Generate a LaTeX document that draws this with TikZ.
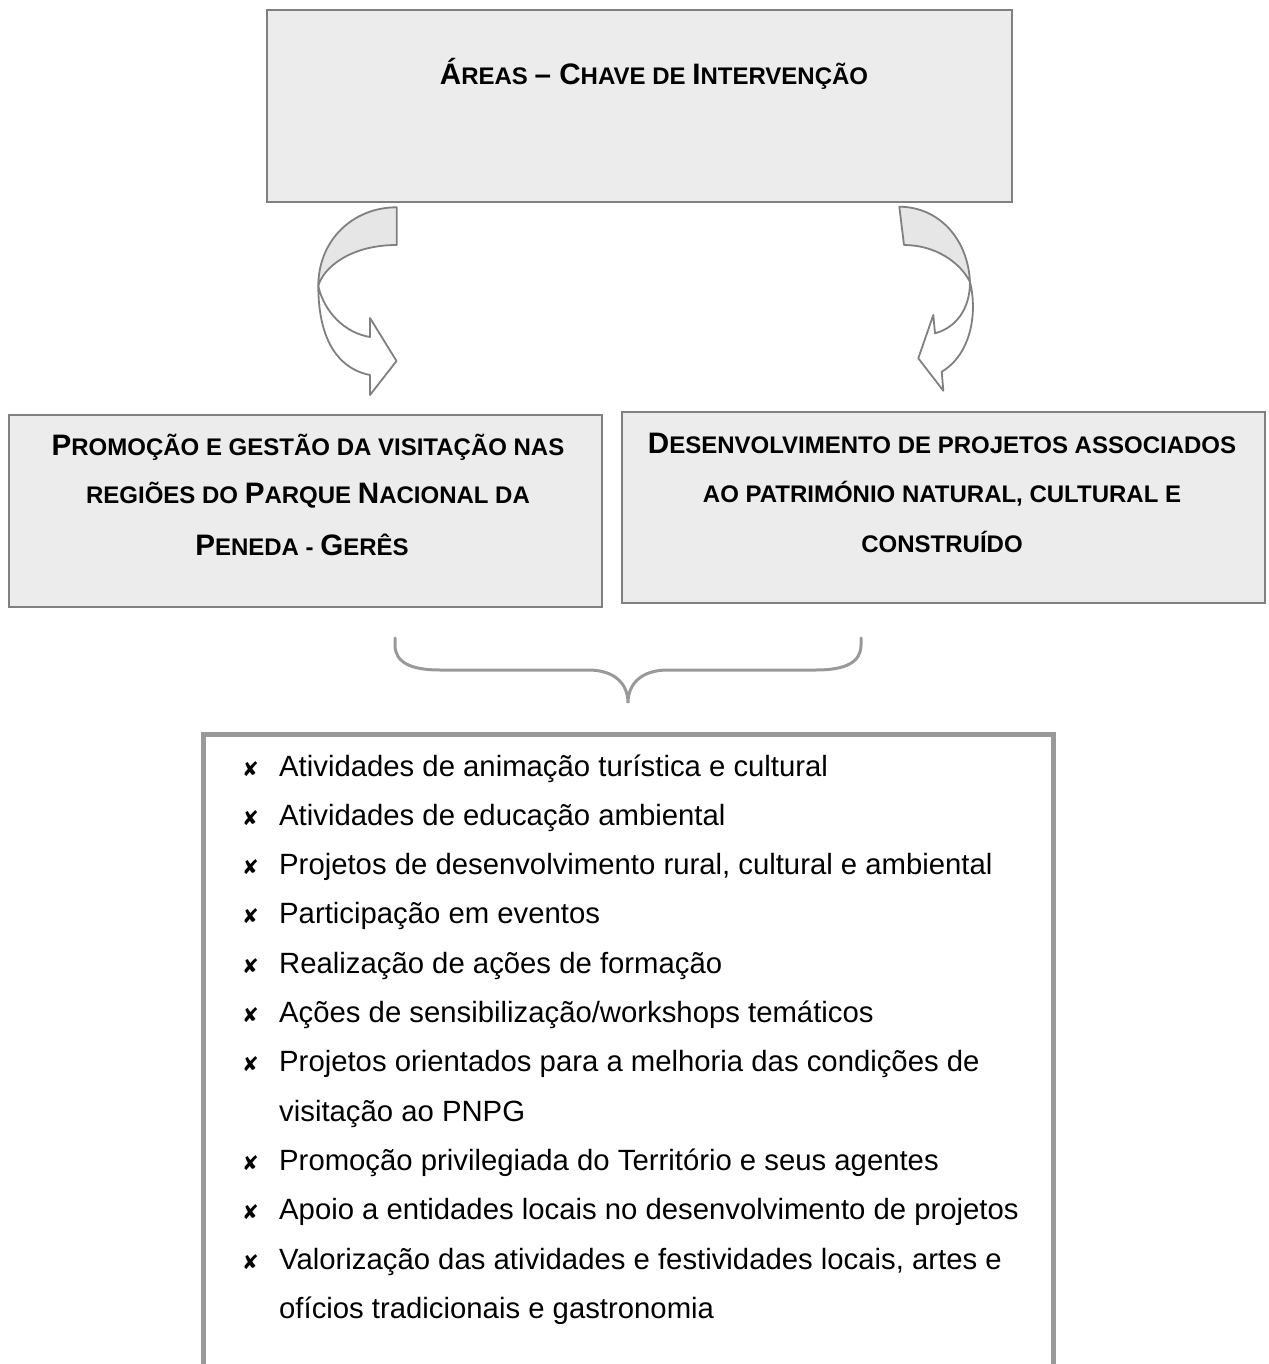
\documentclass[tikz,border=0pt]{standalone}
\usepackage{fontspec}
\setmainfont{Liberation Sans}
\newfontfamily\symfont{DejaVu Sans}
\definecolor{boxline}{RGB}{128,128,128}
\definecolor{boxfill}{RGB}{236,236,236}
\definecolor{listline}{RGB}{153,153,153}
\definecolor{arrowfill}{RGB}{230,230,230}
\newcommand\BG{\fontsize{29.6}{48.5}\selectfont}
\newcommand\SM{\fontsize{24}{48.5}\selectfont}
\begin{document}
\begin{tikzpicture}[x=1pt,y=-1pt,
  frame/.style={draw=boxline, line width=2pt, fill=boxfill, rectangle, inner sep=0pt, outer sep=0pt},
  listframe/.style={draw=listline, line width=5pt, rectangle, inner sep=0pt, outer sep=0pt},
  headline/.style={font=\bfseries, inner sep=0pt, anchor=base},
  item/.style={font=\fontsize{29.3}{50}\selectfont, inner sep=0pt, anchor=base west},
  bulletmark/.style={font=\symfont\fontsize{20}{20}\selectfont, inner sep=0pt, anchor=base west},
  arrowline/.style={draw=boxline, line width=1.8pt, line join=round},
  bracestyle/.style={draw=listline, line width=3pt, line cap=round}
]
\useasboundingbox (0,0) rectangle (1268,1364);
\clip (0,0) rectangle (1268,1364);

% boxes
\node[frame, minimum width=745pt, minimum height=192pt] (top) at (639.5,106) {};
\node[frame, minimum width=593pt, minimum height=192pt] (left) at (305.5,511) {};
\node[frame, minimum width=643pt, minimum height=191pt] (right) at (943.5,507.5) {};
\node[listframe, minimum width=850pt, minimum height=700pt] (list) at (628,1084) {};

% headings
\node[headline] (title) at (654,85) {{\BG Á}{\SM REAS }{\BG – C}{\SM HAVE DE }{\BG I}{\SM NTERVENÇÃO}};
\node[headline] (l1) at (308,455) {{\BG P}{\SM ROMOÇÃO E GESTÃO DA VISITAÇÃO NAS}};
\node[headline] (l2) at (308,503) {{\SM REGIÕES DO }{\BG P}{\SM ARQUE }{\BG N}{\SM ACIONAL DA}};
\node[headline] (l3) at (302,555) {{\BG P}{\SM ENEDA - }{\BG G}{\SM ERÊS}};
\node[headline] (r1) at (942,453) {{\BG D}{\SM ESENVOLVIMENTO DE PROJETOS ASSOCIADOS}};
\node[headline] (r2) at (942,502) {{\SM AO PATRIMÓNIO NATURAL, CULTURAL E}};
\node[headline] (r3) at (942,552) {{\SM CONSTRUÍDO}};

% left curved arrow
\filldraw[arrowline, fill=arrowfill] (396.7,207.3) .. controls (353,207.3) and (318.3,240) .. (318.3,286)
  .. controls (323,268) and (350,245) .. (396.7,245) -- cycle;
\filldraw[arrowline, fill=white] (318.3,286) .. controls (318.3,335) and (335,368) .. (370,375)
  -- (370,395) -- (396.5,361) -- (370,318) -- (370,337)
  .. controls (345,333) and (324,312) .. (318.3,286) -- cycle;

% right curved arrow
\filldraw[arrowline, fill=arrowfill] (899.3,206.7) .. controls (940,207) and (968,240) .. (970,282)
  .. controls (960,262) and (935,245) .. (904,245) -- cycle;
\filldraw[arrowline, fill=white] (970,282) .. controls (978,315) and (970,355) .. (941.7,371.7)
  -- (943.3,390.7) -- (918.3,358.3) -- (933.3,315) -- (935,333.3)
  .. controls (955,328) and (970,310) .. (970,282) -- cycle;

% brace
\draw[bracestyle] (395,638) -- (395,645) .. controls (395,662) and (410,670) .. (440,670) -- (588,670)
  .. controls (615,670) and (628,684) .. (628,703)
  .. controls (628,684) and (641,670) .. (668,670) -- (816,670)
  .. controls (846,670) and (861,662) .. (861,645) -- (861,638);

% list
\node[bulletmark] (b1) at (242,776) {✘};
\node[item] (i1) at (279,776) {Atividades de animação turística e cultural};
\node[bulletmark] (b2) at (242,825.3) {✘};
\node[item] (i2) at (279,825.3) {Atividades de educação ambiental};
\node[bulletmark] (b3) at (242,874.6) {✘};
\node[item] (i3) at (279,874.6) {Projetos de desenvolvimento rural, cultural e ambiental};
\node[bulletmark] (b4) at (242,923.9) {✘};
\node[item] (i4) at (279,923.9) {Participação em eventos};
\node[bulletmark] (b5) at (242,973.2) {✘};
\node[item] (i5) at (279,973.2) {Realização de ações de formação};
\node[bulletmark] (b6) at (242,1022.5) {✘};
\node[item] (i6) at (279,1022.5) {Ações de sensibilização/workshops temáticos};
\node[bulletmark] (b7) at (242,1071.8) {✘};
\node[item] (i7) at (279,1071.8) {Projetos orientados para a melhoria das condições de};
\node[item] (i7b) at (279,1121.1) {visitação ao PNPG};
\node[bulletmark] (b8) at (242,1170.4) {✘};
\node[item] (i8) at (279,1170.4) {Promoção privilegiada do Território e seus agentes};
\node[bulletmark] (b9) at (242,1219.7) {✘};
\node[item] (i9) at (279,1219.7) {Apoio a entidades locais no desenvolvimento de projetos};
\node[bulletmark] (b10) at (242,1269) {✘};
\node[item] (i10) at (279,1269) {Valorização das atividades e festividades locais, artes e};
\node[item] (i10b) at (279,1318.3) {ofícios tradicionais e gastronomia};
\end{tikzpicture}
\end{document}
